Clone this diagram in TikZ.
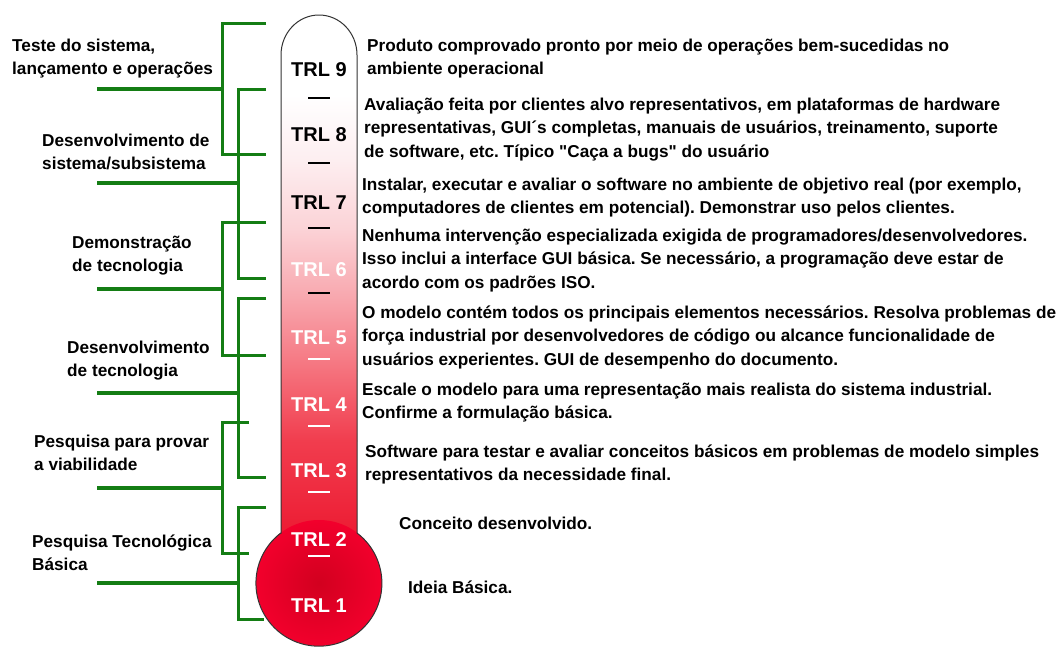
\documentclass[tikz,border=0pt]{standalone}
\usepackage{fontspec}
\setmainfont{Liberation Sans}[Ligatures=TeXOff]
\frenchspacing
\definecolor{grn}{RGB}{20,125,20}
\definecolor{s1}{HTML}{FDEEF0}
\definecolor{s2}{HTML}{FBD2D6}
\definecolor{s3}{HTML}{F8A5AC}
\definecolor{s4}{HTML}{F5727D}
\definecolor{s5}{HTML}{F13D4E}
\definecolor{s6}{HTML}{EC1830}
\definecolor{bulbout}{HTML}{F2002C}
\definecolor{bulbin}{HTML}{D2001F}
\tikzset{
  brk/.style={draw=grn, line width=3pt},
  stem/.style={draw=grn, line width=3.5pt},
  txt/.style={anchor=base west, align=left, inner sep=0pt,
    font=\fontsize{17.2}{23.5}\selectfont\bfseries\frenchspacing},
  trl/.style={inner sep=0pt, font=\fontsize{20}{24}\selectfont\bfseries},
  tickmark/.style={line width=2pt},
  outline/.style={draw=black!80, line width=1pt}
}
\begin{document}
\begin{tikzpicture}[x=1pt,y=1pt]
\useasboundingbox (0,0) rectangle (1062,-651);
\def\thermo{(281,-533) -- (281,-55) arc[start angle=180, end angle=0, x radius=38, y radius=40] -- (357,-533) arc[start angle=52.8, end angle=-232.8, radius=63] -- cycle}
% thermometer fill
\begin{scope}
  \clip \thermo;
  \fill[white] (250,0) rectangle (390,-96);
  \shade[top color=white, bottom color=s1] (250,-95) rectangle (390,-161);
  \shade[top color=s1, bottom color=s2] (250,-160) rectangle (390,-231);
  \shade[top color=s2, bottom color=s3] (250,-230) rectangle (390,-301);
  \shade[top color=s3, bottom color=s4] (250,-300) rectangle (390,-371);
  \shade[top color=s4, bottom color=s5] (250,-370) rectangle (390,-441);
  \shade[top color=s5, bottom color=s6] (250,-440) rectangle (390,-545);
  \shade[inner color=bulbin, outer color=bulbout] (319,-583) circle (63);
\end{scope}
\draw[outline] \thermo;
% ticks
\foreach \y in {98,163,228,293} \draw[tickmark, black] (308,-\y) -- (330,-\y);
\foreach \y in {359,426,492,556} \draw[tickmark, white] (308,-\y) -- (330,-\y);
% TRL labels
\node[trl, text=black] (t9) at (319,-70) {TRL 9};
\node[trl, text=black] (t8) at (319,-135) {TRL 8};
\node[trl, text=black] (t7) at (319,-203) {TRL 7};
\node[trl, text=white] (t6) at (319,-270) {TRL 6};
\node[trl, text=white] (t5) at (319,-338) {TRL 5};
\node[trl, text=white] (t4) at (319,-405) {TRL 4};
\node[trl, text=white] (t3) at (319,-471) {TRL 3};
\node[trl, text=white] (t2) at (319,-540) {TRL 2};
\node[trl, text=white] (t1) at (319,-606) {TRL 1};
% brackets
\draw[brk] (266,-23) -- (222,-23) -- (222,-154) -- (266,-154);
\draw[stem] (97,-89) -- (222,-89);
\draw[brk] (266,-89) -- (238,-89) -- (238,-278) -- (266,-278);
\draw[stem] (97,-183) -- (238,-183);
\draw[brk] (266,-222) -- (222,-222) -- (222,-355) -- (266,-355);
\draw[stem] (97,-289) -- (222,-289);
\draw[brk] (266,-298) -- (238,-298) -- (238,-477) -- (266,-477);
\draw[stem] (97,-393) -- (238,-393);
\draw[brk] (249,-422) -- (222,-422) -- (222,-553) -- (249,-553);
\draw[stem] (97,-488) -- (222,-488);
\draw[brk] (266,-507) -- (238,-507) -- (238,-619) -- (264,-619);
\draw[stem] (97,-583) -- (238,-583);
% left labels (base = last line baseline)
\node[txt] (l1) at (12,-74.5) {Teste do sistema,\\lançamento e operações};
\node[txt] (l2) at (42,-169.5) {Desenvolvimento de\\sistema/subsistema};
\node[txt] (l3) at (72,-271.5) {Demonstração\\de tecnologia};
\node[txt] (l4) at (67,-376.5) {Desenvolvimento\\de tecnologia};
\node[txt] (l5) at (34,-470.5) {Pesquisa para provar\\a viabilidade};
\node[txt] (l6) at (32,-570.5) {Pesquisa Tecnológica\\Básica};
% descriptions
\node[txt] (d9) at (367,-74.5) {Produto comprovado pronto por meio de operações bem-sucedidas no\\ambiente operacional};
\node[txt] (d8) at (364,-157) {Avaliação feita por clientes alvo representativos, em plataformas de hardware\\representativas, GUI´s completas, manuais de usuários, treinamento, suporte\\de software, etc. Típico "Caça a bugs" do usuário};
\node[txt] (d7) at (362,-213.5) {Instalar, executar e avaliar o software no ambiente de objetivo real (por exemplo,\\computadores de clientes em potencial). Demonstrar uso pelos clientes.};
\node[txt] (d6) at (362,-288) {Nenhuma intervenção especializada exigida de programadores/desenvolvedores.\\Isso inclui a interface GUI básica. Se necessário, a programação deve estar de\\acordo com os padrões ISO.};
\node[txt] (d5) at (362,-365) {O modelo contém todos os principais elementos necessários. Resolva problemas de\\força industrial por desenvolvedores de código ou alcance funcionalidade de\\usuários experientes. GUI de desempenho do documento.};
\node[txt] (d4) at (362,-418.5) {Escale o modelo para uma representação mais realista do sistema industrial.\\Confirme a formulação básica.};
\node[txt] (d3) at (365,-480.5) {Software para testar e avaliar conceitos básicos em problemas de modelo simples\\representativos da necessidade final.};
\node[txt] (d2) at (399,-529) {Conceito desenvolvido.};
\node[txt] (d1) at (408,-593) {Ideia Básica.};
\end{tikzpicture}
\end{document}
